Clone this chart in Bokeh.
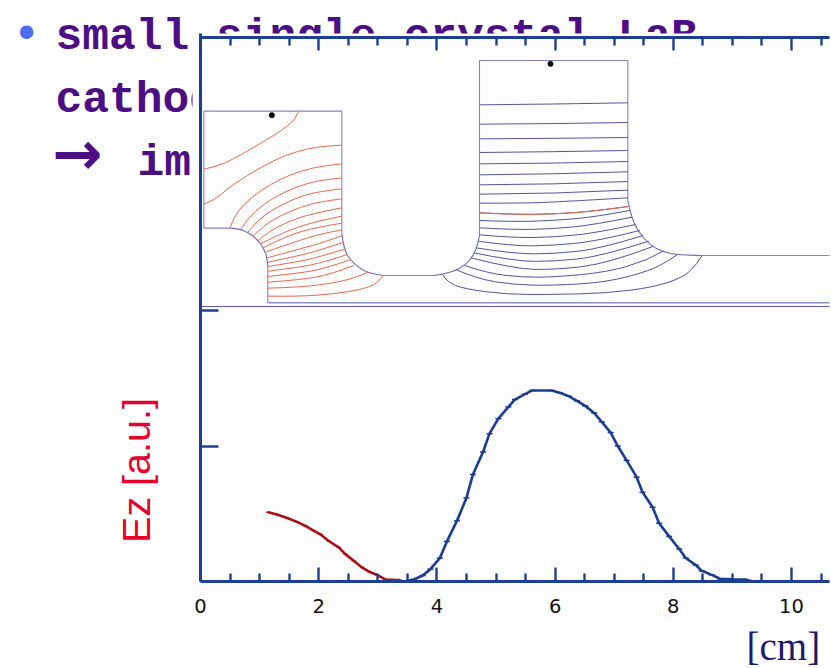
from bokeh.core.properties import value
from bokeh.embed import file_html
from bokeh.models import FixedTicker, LinearAxis, Range1d
from bokeh.plotting import figure
from bokeh.resources import INLINE

# Axis ticks
x_major_ticks = [0, 2, 4, 6, 8, 10]
x_minor_ticks = [0.5, 1, 1.5, 2.5, 3, 3.5, 4.5, 5, 5.5, 6.5, 7, 7.5, 8.5, 9, 9.5, 10.5]
y_ticks = [1, 2]

# Ez on axis (cm, a.u.): first cell (red)
ez_red_x = [1.144, 1.296, 1.465, 1.634, 1.775, 1.915, 2.028, 2.169, 2.338, 2.451, 2.592, 2.732, 2.845, 2.986, 3.127, 3.268, 3.380]
ez_red_y = [.511, .494, .469, .440, .410, .375, .348, .299, .252, .202, .153, .104, .074, .049, .015, .012, .010]

# Ez on axis (cm, a.u.): second cell (blue)
ez_blue_x = [3.44, 3.61, 3.76, 3.89, 4.05, 4.17, 4.34, 4.50, 4.61, 4.78, 4.89, 5.04, 5.21, 5.32, 5.49, 5.61, 5.94, 6.08, 6.23, 6.37, 6.51, 6.66, 6.79, 6.94, 7.06, 7.21, 7.38, 7.48, 7.65, 7.76, 7.93, 8.10, 8.21, 8.38, 8.48, 8.65, 8.79, 8.99, 9.21, 9.35]
ez_blue_y = [0, .015, .044, .091, .173, .296, .449, .617, .790, .956, 1.091, 1.202, 1.289, 1.343, 1.383, 1.410, 1.410, 1.393, 1.368, 1.333, 1.296, 1.244, 1.178, 1.099, 1.000, .894, .770, .659, .548, .430, .333, .240, .173, .121, .079, .049, .020, .017, .015, 0]

# Field-map drawing (its own arbitrary units): straight walls
wall_x = [[202, 202], [90, 10, 10, 424, 424], [550, 700], [837, 837, 1282, 1282], [1505, 1887]]
wall_y = [[120, 11], [235, 235, 586, 586, 218], [93, 93], [213, 738, 738, 318], [153, 153]]
base_x = [[202, 1887], [0, 1887]]
base_y = [[11, 11], [0, 0]]

# Curved walls
arc_x = [
    [90, 120, 150, 175, 190, 200, 202],
    [424, 430, 450, 480, 510, 550],
    [700, 726, 765, 795, 815, 830, 837],
    [1282, 1290, 1310, 1350, 1390, 1430, 1505],
]
arc_y = [
    [235, 232, 218, 196, 173, 146, 120],
    [218, 173, 138, 113, 98, 93],
    [93, 96, 108, 125, 148, 178, 213],
    [318, 278, 228, 183, 163, 155, 153],
]

red_x = [
    [10, 50, 100, 160, 220, 260, 285, 295],
    [10, 40, 80, 140, 200, 260, 320, 370, 424],
    [88, 100, 130, 180, 240, 300, 360, 424],
    [120, 140, 190, 250, 320, 370, 424],
    [142, 170, 220, 280, 350, 424],
    [158, 190, 240, 300, 360, 424],
    [173, 210, 260, 330, 424],
    [180, 230, 290, 360, 424],
    [188, 260, 350, 424],
    [195, 280, 360, 424],
    [200, 300, 370, 424],
    [202, 300, 370, 430],
    [202, 300, 370, 435],
    [202, 300, 370, 440],
    [202, 300, 380, 448],
    [202, 300, 390, 460],
    [202, 300, 400, 470, 505],
    [202, 300, 400, 480, 530, 548],
    [838, 940, 1060, 1180, 1284],
]
red_y = [
    [412, 420, 443, 478, 513, 540, 563, 586],
    [307, 318, 353, 393, 428, 456, 473, 481, 484],
    [235, 268, 308, 348, 383, 406, 421, 428],
    [230, 263, 308, 343, 370, 380, 386],
    [223, 258, 293, 323, 345, 353],
    [211, 243, 273, 298, 315, 323],
    [198, 228, 253, 278, 296],
    [188, 213, 238, 258, 271],
    [176, 213, 238, 250],
    [163, 193, 218, 230],
    [146, 173, 193, 212],
    [133, 153, 173, 193],
    [120, 135, 153, 173],
    [106, 118, 133, 156],
    [90, 100, 116, 140],
    [73, 80, 96, 123],
    [55, 58, 70, 88, 103],
    [31, 30, 38, 50, 68, 93],
    [281, 276, 277, 286, 300],
]

blue_x = [
    [838, 1060, 1282],
    [838, 1060, 1282],
    [838, 1060, 1282],
    [838, 1060, 1282],
    [838, 1060, 1282],
    [838, 1060, 1282],
    [838, 1060, 1282],
    [838, 1060, 1282],
    [838, 960, 1060, 1282],
    [838, 940, 1060, 1180, 1284],
    [838, 940, 1060, 1180, 1288],
    [838, 940, 1060, 1180, 1295],
    [836, 940, 1060, 1190, 1305],
    [832, 940, 1060, 1190, 1318],
    [826, 940, 1060, 1200, 1328],
    [820, 940, 1060, 1200, 1345],
    [812, 940, 1060, 1220, 1360],
    [793, 860, 960, 1060, 1220, 1340, 1388],
    [768, 830, 940, 1060, 1220, 1350, 1405, 1430],
    [726, 740, 790, 920, 1060, 1220, 1360, 1450, 1490, 1505],
]
blue_y = [
    [605, 607, 611],
    [547, 548, 552],
    [503, 504, 507],
    [462, 464, 468],
    [428, 429, 435],
    [395, 397, 404],
    [365, 366, 375],
    [337, 338, 349],
    [310, 310, 313, 326],
    [281, 276, 277, 286, 300],
    [258, 254, 258, 268, 288],
    [236, 230, 233, 245, 268],
    [215, 206, 208, 221, 246],
    [196, 181, 183, 196, 228],
    [176, 158, 158, 173, 213],
    [161, 136, 135, 150, 196],
    [146, 113, 110, 128, 181],
    [123, 100, 88, 88, 103, 138, 166],
    [110, 83, 65, 63, 73, 108, 138, 155],
    [96, 73, 53, 36, 36, 40, 58, 88, 128, 153],
]
probe_x = [214, 1050]
probe_y = [574, 728]

AXIS = "#1c3f94"
PURPLE = "#4d0e85"
BG = "#fdfdfd"

W, H = 831, 668
# The frame fills the page; data units keep the reference's axes in place
x0, x1 = -200 / 59.1, (W - 200) / 59.1
y0, y1 = (581 - H) / 135.5, 581 / 135.5
p = figure(width=W, height=H, output_backend="svg", toolbar_location=None,
           x_axis_type=None, y_axis_type=None, x_range=Range1d(x0, x1), y_range=Range1d(y0, y1),
           min_border=0, outline_line_color=None,
           background_fill_color="white", border_fill_color="white")
p.grid.visible = False
p.extra_x_ranges["map_x"] = Range1d(-600, 1893)
p.extra_y_ranges["map_y"] = Range1d(-1086, 918)


def px(x):
    return (x - 200) / 59.1


def py(y):
    return (581 - y) / 135.5


def page_text(text, x, y, size, color=PURPLE, font="Liberation Mono", style="normal", angle=0, align="left", baseline="alphabetic"):
    p.text([px(x)], [py(y)], text=[text], text_font=value(font), text_font_size=f"{size}px",
           text_color=color, text_font_style=style, angle=angle, angle_units="deg",
           text_align=align, text_baseline=baseline)


# Slide text sitting behind the pasted chart
page_text("small single crystal LaB", 55, 36, 44.6, style="bold")
page_text("cathode", 55, 99, 44.6, style="bold")
page_text("→", 52, 152, 60, font="DejaVu Sans", style="bold")
page_text("imp", 137, 162, 44.6, style="bold")
page_text("•", 26, 33, 46, color="#4a6af0", font="DejaVu Sans", align="center", baseline="middle")

# Opaque chart panel that covers the slide text
p.quad(left=[px(192)], right=[px(829)], bottom=[py(617)], top=[py(33)], fill_color=BG, line_color=None)

kw = dict(x_range_name="map_x", y_range_name="map_y")


def curve(lines_x, lines_y, color, width=1.0):
    # Each read point acts as the control point of a quadratic piece, so the line stays smooth.
    a, b, c, d, e, f = [], [], [], [], [], []
    for xs, ys in zip(lines_x, lines_y):
        n = len(xs)
        for i in range(1, n - 1):
            a.append(xs[0] if i == 1 else (xs[i - 1] + xs[i]) / 2)
            b.append(ys[0] if i == 1 else (ys[i - 1] + ys[i]) / 2)
            c.append(xs[-1] if i == n - 2 else (xs[i] + xs[i + 1]) / 2)
            d.append(ys[-1] if i == n - 2 else (ys[i] + ys[i + 1]) / 2)
            e.append(xs[i])
            f.append(ys[i])
    p.quadratic(x0=a, y0=b, x1=c, y1=d, cx=e, cy=f, line_color=color, line_width=width, **kw)


p.multi_line(base_x, base_y, line_color="#5a5aa8", line_width=1, **kw)
p.multi_line(wall_x, wall_y, line_color="#8585bd", line_width=1.1, **kw)
curve(arc_x, arc_y, "#6a6ab0", 1.1)
curve(blue_x, blue_y, "#55559f")
curve(red_x, red_y, "#e9694f")
p.scatter(probe_x, probe_y, size=5, color="black", **kw)

# Ez curves
p.line(ez_red_x, ez_red_y, line_color="#b00d14", line_width=2.6)
p.scatter(ez_red_x, ez_red_y, marker="dash", size=4, line_color="#b00d14", line_width=1.5)
p.line(ez_blue_x, ez_blue_y, line_color="#1a3d94", line_width=2.6)
p.scatter(ez_blue_x, ez_blue_y, marker="dash", size=6, line_color="#1a3d94", line_width=1.5)


def style_axis(ax):
    ax.axis_line_color = AXIS
    ax.axis_line_width = 3
    ax.major_tick_line_color = AXIS
    ax.minor_tick_line_color = AXIS
    ax.major_tick_line_width = 2.4
    ax.minor_tick_line_width = 2.4
    ax.major_tick_out = 0
    ax.minor_tick_out = 0


ticker = FixedTicker(ticks=x_major_ticks, minor_ticks=x_minor_ticks)
xlim = px(829)
bottom = LinearAxis(ticker=ticker, fixed_location=0, bounds=(0, xlim))
style_axis(bottom)
bottom.major_tick_in = 14
bottom.minor_tick_in = 8
bottom.major_label_standoff = 17
bottom.major_label_text_font = "DejaVu Sans"
bottom.major_label_text_font_size = "19.5px"
bottom.major_label_text_color = "#111111"
p.add_layout(bottom, "below")

top = LinearAxis(ticker=ticker, fixed_location=py(36.5), bounds=(0, xlim))
style_axis(top)
top.major_tick_in = 13
top.minor_tick_in = 8
top.major_label_overrides = {t: "" for t in x_major_ticks}
p.add_layout(top, "above")

left = LinearAxis(ticker=FixedTicker(ticks=y_ticks), fixed_location=0, bounds=(0, py(33)))
style_axis(left)
left.major_tick_in = 18
left.major_label_overrides = {t: "" for t in y_ticks}
p.add_layout(left, "left")

page_text("Ez [a.u.]", 135, 470, 39.5, color="#e8002d", font="Liberation Sans", angle=90, align="center")
page_text("[cm]", 746, 646, 39, color="#1b1b70", font="Liberation Serif")

open("out.html", "w").write(file_html(p, INLINE))
